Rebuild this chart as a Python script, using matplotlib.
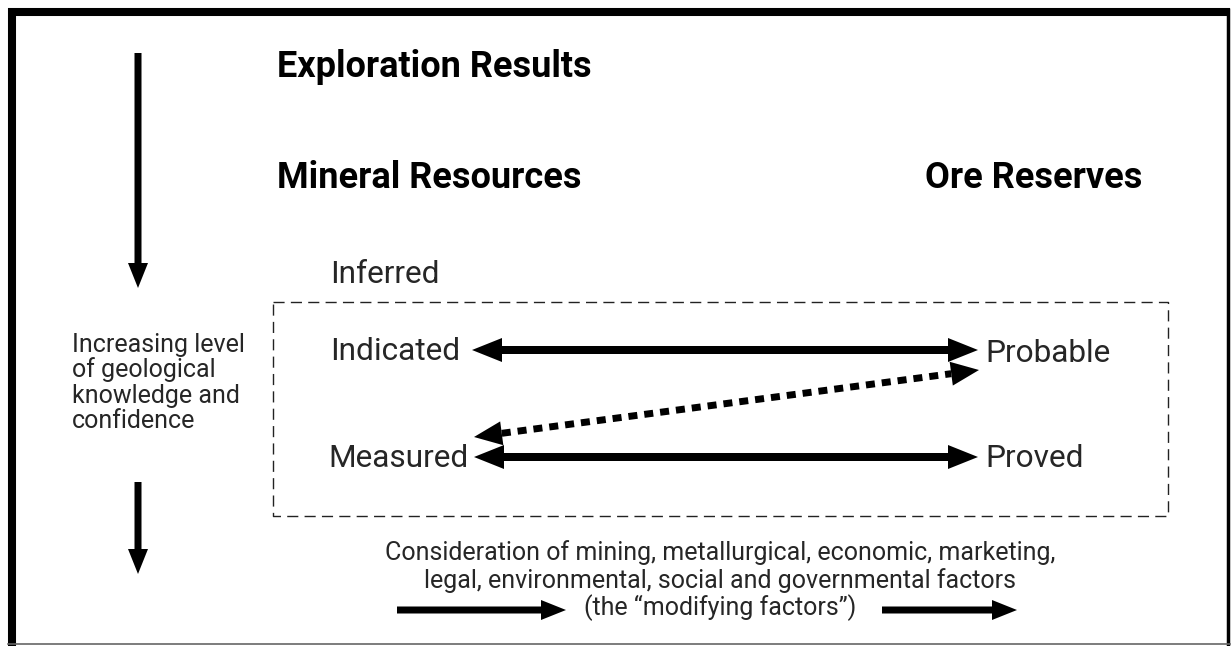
"""Resource / reserve classification diagram (exploration results -> ore reserves)."""

import matplotlib

matplotlib.use("Agg")
import matplotlib.pyplot as plt
import numpy as np

W, H = 1232, 646
DPI = 100

HEADINGS = ["Exploration Results", "Mineral Resources", "Ore Reserves"]
RESOURCE_LABELS = ["Inferred", "Indicated", "Measured"]
RESERVE_LABELS = ["Probable", "Proved"]
SIDE_NOTE = ["Increasing level", "of geological", "knowledge and", "confidence"]
FACTOR_LINES = [
    "Consideration of mining, metallurgical, economic, marketing,",
    "legal, environmental, social and governmental factors",
    "(the \u201cmodifying factors\u201d)",
]

FONT = ["Roboto", "DejaVu Sans"]
TEXT_COLOR = "#262626"


def _arrow(ax, x0, y0, x1, y1, width=8, head_w=24, head_len=30):
    ax.arrow(x0, y0, x1 - x0, y1 - y0, width=width, head_width=head_w,
             head_length=head_len, length_includes_head=True,
             color="black", lw=0)


def _double_arrow(ax, x0, y0, x1, y1, **kw):
    xm, ym = (x0 + x1) / 2, (y0 + y1) / 2
    _arrow(ax, xm, ym, x0, y0, **kw)
    _arrow(ax, xm, ym, x1, y1, **kw)


def _dotted_double_arrow(ax, p0, p1, head_w=24, head_len=28):
    p0, p1 = np.asarray(p0, float), np.asarray(p1, float)
    u = (p1 - p0) / np.hypot(*(p1 - p0))
    b0, b1 = p0 + u * head_len, p1 - u * head_len
    ax.plot([b0[0], b1[0]], [b0[1], b1[1]], color="black", lw=5,
            linestyle=(0, (1.3, 1.0)), solid_capstyle="butt",
            dash_capstyle="butt")
    for base, tip in [(b0, p0), (b1, p1)]:
        _arrow(ax, base[0], base[1], tip[0], tip[1], width=0.1,
               head_w=head_w, head_len=head_len)


def main():
    fig = plt.figure(figsize=(W / DPI, H / DPI), dpi=DPI)
    ax = fig.add_axes([0, 0, 1, 1])
    ax.set_xlim(0, W)
    ax.set_ylim(H, 0)
    ax.axis("off")

    # outer frame (thick top/left, thin right/bottom)
    ax.plot([8, 1230], [12, 12], color="black", lw=5.8, solid_capstyle="butt")
    ax.plot([12, 12], [8, H], color="black", lw=5.8, solid_capstyle="butt")
    ax.plot([1228, 1228], [8, H], color="black", lw=2.5, solid_capstyle="butt")
    ax.plot([8, 1230], [644, 644], color="#666666", lw=1.2)

    # dashed box round indicated / measured / probable / proved
    ax.plot([273, 1168, 1168, 273, 273], [302, 302, 516, 516, 302],
            color="#222222", lw=1.0, linestyle=(0, (8, 4.5)))

    # headings
    for label, (x, y) in zip(HEADINGS, [(277, 77), (277, 188), (925, 188)]):
        ax.text(x, y, label, fontsize=26, fontweight="bold", family=FONT,
                va="baseline", ha="left", color="black")

    for label, (x, y) in zip(RESOURCE_LABELS, [(330, 283), (330, 360), (328, 467)]):
        ax.text(x, y, label, fontsize=22.8, family=FONT, va="baseline",
                ha="left", color=TEXT_COLOR)
    for label, (x, y) in zip(RESERVE_LABELS, [(985, 362), (985, 467)]):
        ax.text(x, y, label, fontsize=22.8, family=FONT, va="baseline",
                ha="left", color=TEXT_COLOR)

    for i, line in enumerate(SIDE_NOTE):
        ax.text(72, 352 + 25.3 * i, line, fontsize=18, family=FONT,
                va="baseline", ha="left", color=TEXT_COLOR)

    for i, line in enumerate(FACTOR_LINES):
        ax.text(720, 553 + 27.5 * i, line, fontsize=18, family=FONT,
                va="center", ha="center", color=TEXT_COLOR)

    # confidence arrows on the left
    _arrow(ax, 138, 53, 138, 288, width=7, head_w=20, head_len=25)
    _arrow(ax, 138, 482, 138, 574, width=7, head_w=20, head_len=25)

    # resource <-> reserve arrows
    _double_arrow(ax, 472, 350, 978, 350)
    _double_arrow(ax, 474, 457, 978, 457)
    _dotted_double_arrow(ax, (474, 437), (979, 370))

    # modifying factor arrows
    _arrow(ax, 397, 610, 566, 610, width=7, head_w=20, head_len=25)
    _arrow(ax, 882, 610, 1017, 610, width=7, head_w=20, head_len=25)

    fig.savefig("out.png", dpi=DPI)
    plt.close(fig)


if __name__ == "__main__":
    main()
